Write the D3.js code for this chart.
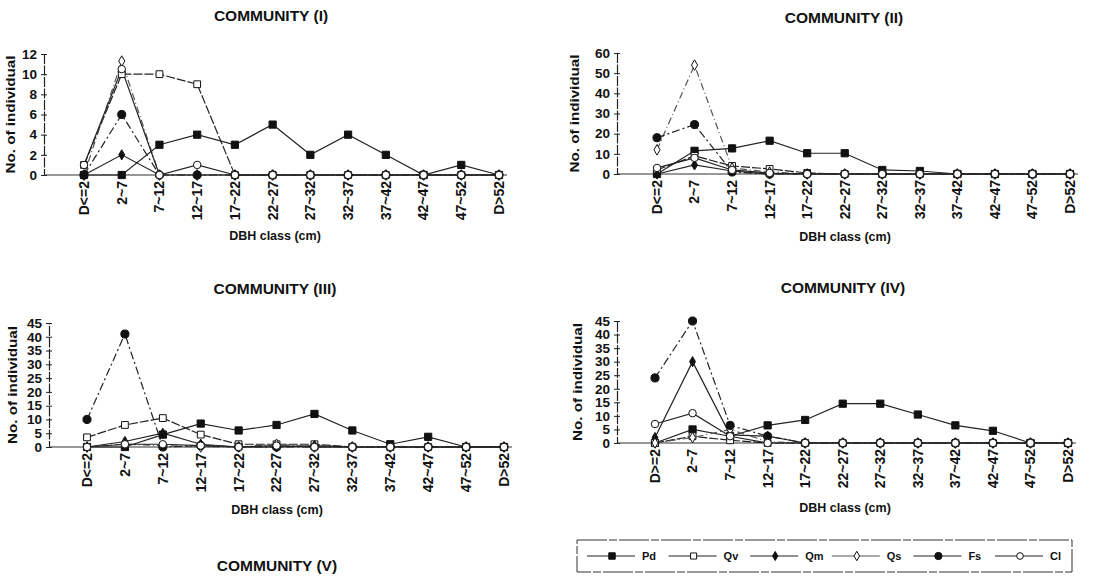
<!DOCTYPE html>
<html><head><meta charset="utf-8">
<script src="https://cdn.jsdelivr.net/npm/d3@7/dist/d3.min.js"></script>
<style>
body{margin:0;background:#fff;}
svg text{font-family:"Liberation Sans",Arial,sans-serif;font-weight:bold;fill:#111;}
</style></head>
<body><svg id="c" width="1119" height="577"></svg>
<script>
// ---- data ----
const categories = ["D<=2","2~7","7~12","12~17","17~22","22~27","27~32","32~37","37~42","42~47","47~52","D>52"];
const categoriesIV = ["D>=2","2~7","7~12","12~17","17~22","22~27","27~32","32~37","37~42","42~47","47~52","D>52"];
const species = ["Pd","Qv","Qm","Qs","Fs","Cl"];

const c1_Pd = [0,0,3,4,3,5,2,4,2,0,1,0];
const c1_Qv = [1,10,10,9,0,0,0,0,0,0,0,0];
const c1_Qm = [0,2,0,0,0,0,0,0,0,0,0,0];
const c1_Qs = [0,11.3,0,0,0,0,0,0,0,0,0,0];
const c1_Fs = [0,6,0,0,0,0,0,0,0,0,0,0];
const c1_Cl = [1,10.5,0,1,0,0,0,0,0,0,0,0];

const c2_Pd = [0,11.5,12.7,16.5,10.3,10.3,2,1.5,0,0,0,0];
const c2_Qv = [2,9,4,2.5,0.5,0,0,0,0,0,0,0];
const c2_Qm = [0,4.5,1.5,0,0,0,0,0,0,0,0,0];
const c2_Qs = [12,54,3,1,0,0,0,0,0,0,0,0];
const c2_Fs = [18,24.5,1,0,0,0,0,0,0,0,0,0];
const c2_Cl = [3,8,2,0.5,0,0,0,0,0,0,0,0];

const c3_Pd = [0,0,4.5,8.5,6,8,12,6,1,3.7,0,0];
const c3_Qv = [3.5,8,10.5,4.5,1,1,1,0,0,0,0,0];
const c3_Qm = [0,2,5,1,0,0,0.5,0,0,0,0,0];
const c3_Qs = [0,1,0.5,0,0,1,0,0,0,0,0,0];
const c3_Fs = [10,41,0,0.5,0,0,0,0,0,0,0,0];
const c3_Cl = [0,1,1,0.5,0,0.5,0,0,0,0,0,0];

const c4_Pd = [0,5,2.5,6.5,8.5,14.5,14.5,10.5,6.5,4.5,0,0];
const c4_Qv = [0,2.5,1,0,0,0,0,0,0,0,0,0];
const c4_Qm = [2,30,3,2.5,0,0,0,0,0,0,0,0];
const c4_Qs = [0,2,5,0.5,0,0,0,0,0,0,0,0];
const c4_Fs = [24,45,6.5,2.5,0,0,0,0,0,0,0,0];
const c4_Cl = [7,11,2.5,0,0,0,0,0,0,0,0,0];

const yMax = [12,60,45,45];
const yStep = [2,10,5,5];
const titles = ["COMMUNITY (I)","COMMUNITY (II)","COMMUNITY (III)","COMMUNITY (IV)"];
const titleV = "COMMUNITY (V)";
const xTitle = "DBH class (cm)";
const yTitle = "No. of individual";

// ---- styles ----
const style = {
  Pd:{sym:d3.symbolSquare,size:52,fill:"#111",dash:null,stroke:"#222"},
  Qv:{sym:d3.symbolSquare,size:46,fill:"#fff",dash:"9,2",stroke:"#222"},
  Qm:{sym:d3.symbolDiamond,size:30,fill:"#111",dash:null,stroke:"#222"},
  Qs:{sym:d3.symbolDiamond,size:32,fill:"#fff",dash:"7,3,1,3",stroke:"#555"},
  Fs:{sym:d3.symbolCircle,size:52,fill:"#111",dash:"8,3,2,3",stroke:"#222"},
  Cl:{sym:d3.symbolCircle,size:44,fill:"#fff",dash:null,stroke:"#222"}
};

const data = [
  {Pd:c1_Pd,Qv:c1_Qv,Qm:c1_Qm,Qs:c1_Qs,Fs:c1_Fs,Cl:c1_Cl},
  {Pd:c2_Pd,Qv:c2_Qv,Qm:c2_Qm,Qs:c2_Qs,Fs:c2_Fs,Cl:c2_Cl},
  {Pd:c3_Pd,Qv:c3_Qv,Qm:c3_Qm,Qs:c3_Qs,Fs:c3_Fs,Cl:c3_Cl},
  {Pd:c4_Pd,Qv:c4_Qv,Qm:c4_Qm,Qs:c4_Qs,Fs:c4_Fs,Cl:c4_Cl}
];

// ---- layout ----
const layout = [
  {ax:44, x0:84, x1:499, y0:175, y1:54, tx:271, ty:21, xlx:275, xly:240, ylx:11},
  {ax:617, x0:657, x1:1070, y0:174, y1:53, tx:844, ty:23, xlx:845, xly:241, ylx:575},
  {ax:49, x0:87, x1:504, y0:447, y1:323, tx:275, ty:294, xlx:277, xly:514, ylx:13},
  {ax:617, x0:655, x1:1068, y0:443, y1:321, tx:843, ty:293, xlx:845, xly:512, ylx:578}
];

const svg = d3.select("#c");

layout.forEach((L,i)=>{
  const cats = i===3 ? categoriesIV : categories;
  const x = d3.scalePoint().domain(cats).range([L.x0,L.x1]);
  const y = d3.scaleLinear().domain([0,yMax[i]]).range([L.y0,L.y1]);
  const g = svg.append("g");

  g.append("text").attr("x",L.tx).attr("y",L.ty).attr("text-anchor","middle")
    .style("font-size","15.5px").text(titles[i]);

  // y axis
  const ticks = d3.range(0,yMax[i]+0.001,yStep[i]);
  const ya = d3.axisLeft(y).tickValues(ticks).tickSize(3).tickPadding(4);
  const yg = g.append("g").attr("transform",`translate(${L.ax},0)`).call(ya);
  yg.select(".domain").attr("stroke","#222").attr("stroke-width",1.2).attr("stroke-dasharray","10,1.5");
  yg.selectAll(".tick line").attr("x1",3).attr("x2",-3).attr("stroke","#222");
  yg.selectAll(".tick text").style("font-size","13.5px").style("font-weight","bold").attr("fill","#111")
    .style("font-family","'Liberation Sans',Arial,sans-serif");

  // x axis
  g.append("line").attr("x1",L.ax).attr("x2",L.x1+8).attr("y1",L.y0).attr("y2",L.y0)
    .attr("stroke","#333").attr("stroke-width",1.1);
  g.selectAll(".xl").data(cats).enter().append("text")
    .attr("transform",d=>`translate(${x(d)},${L.y0+6}) rotate(-90)`)
    .attr("text-anchor","end").attr("dy","0.35em").style("font-size","14px").text(d=>d);

  g.append("text").attr("x",L.xlx).attr("y",L.xly).attr("text-anchor","middle")
    .style("font-size","12.5px").text(xTitle);
  g.append("text").attr("transform",`translate(${L.ylx},${(L.y0+L.y1)/2}) rotate(-90)`)
    .attr("text-anchor","middle").attr("dy","0.35em").style("font-size","12.5px")
    .attr("textLength",118).attr("lengthAdjust","spacingAndGlyphs").text(yTitle);

  const line = d3.line().x((d,j)=>x(cats[j])).y(d=>y(d));
  species.forEach(s=>{
    const st = style[s];
    g.append("path").datum(data[i][s]).attr("d",line).attr("fill","none")
      .attr("stroke",st.stroke).attr("stroke-width",1.2)
      .attr("stroke-dasharray",st.dash);
  });
  species.forEach(s=>{
    const st = style[s];
    g.selectAll(".m"+s).data(data[i][s]).enter().append("path")
      .attr("d",d3.symbol().type(st.sym).size(st.size))
      .attr("transform",(d,j)=>`translate(${x(cats[j])},${y(d)})`)
      .attr("fill",st.fill).attr("stroke","#111").attr("stroke-width",1);
  });
});

svg.append("text").attr("x",277).attr("y",571).attr("text-anchor","middle")
  .style("font-size","15.5px").text(titleV);

// legend
const lg = svg.append("g");
lg.append("rect").attr("x",577).attr("y",540).attr("width",495).attr("height",32)
  .attr("fill","none").attr("stroke","#333").attr("stroke-width",1).attr("stroke-dasharray","30,2,8,2");
const legX = d3.scalePoint().domain(species).range([612,1020]);
species.forEach(s=>{
  const st = style[s];
  const cx = legX(s);
  lg.append("line").attr("x1",cx-25).attr("x2",cx+23).attr("y1",556).attr("y2",556)
    .attr("stroke",st.stroke).attr("stroke-width",1.1);
  lg.append("path").attr("d",d3.symbol().type(st.sym).size(st.size*0.8))
    .attr("transform",`translate(${cx},556)`).attr("fill",st.fill).attr("stroke","#111");
  lg.append("text").attr("x",cx+30).attr("y",556).attr("dy","0.35em")
    .style("font-size","11px").text(s);
});
</script></body></html>
